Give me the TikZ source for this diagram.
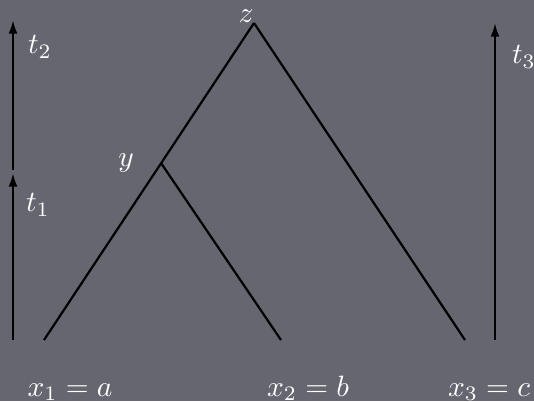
\documentclass[tikz,border=0pt]{standalone}
\usetikzlibrary{arrows.meta}
\definecolor{bgc}{RGB}{102,102,112}
\begin{document}
\begin{tikzpicture}[x=0.34pt,y=-0.34pt,
  edge/.style={black,line width=0.75pt},
  arr/.style={black,line width=0.75pt,-{Latex[length=4.6pt,width=3pt]}},
  lab/.style={text=white,inner sep=0pt}]
\fill[bgc] (0,0) rectangle (534,401);
\useasboundingbox (0,0) rectangle (534,401);
% tree
\coordinate (z) at (254,23);
\coordinate (y) at (161,163);
\coordinate (a) at (44,340);
\coordinate (b) at (281,340);
\coordinate (c) at (465,340);
\draw[edge] (a) -- (z);
\draw[edge] (y) -- (b);
\draw[edge] (z) -- (c);
% time arrows
\coordinate (p0) at (13,340);
\coordinate (p1) at (13,173);
\coordinate (p2) at (13,170);
\coordinate (p3) at (13,20);
\coordinate (q0) at (495,340);
\coordinate (q1) at (495,23);
\draw[arr] (p0) -- (p1);
\draw[arr] (p2) -- (p3);
\draw[arr] (q0) -- (q1);
% labels
\node[lab] (tz) at (246,16) {$z$};
\node[lab] (ty) at (126,163) {$y$};
\node[lab] (t2) at (40,47) {$t_2$};
\node[lab] (t1) at (38,205) {$t_1$};
\node[lab] (t3) at (524,57) {$t_3$};
\node[lab,anchor=base] (x1) at (70,396) {$x_1=a$};
\node[lab,anchor=base] (x2) at (308,396) {$x_2=b$};
\node[lab,anchor=base] (x3) at (489,396) {$x_3=c$};
\end{tikzpicture}
\end{document}
